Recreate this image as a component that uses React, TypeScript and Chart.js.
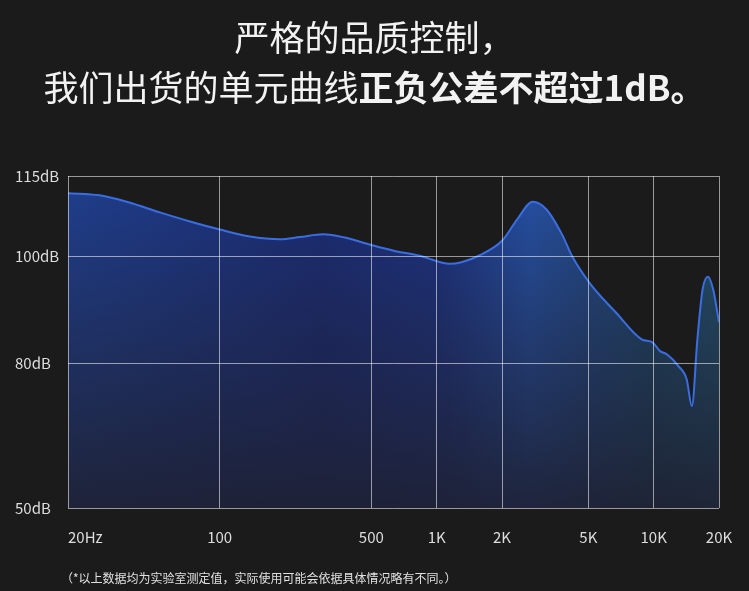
import React, { useEffect, useRef } from "react";
import { Chart, registerables } from "chart.js";

Chart.register(...registerables);

// ---- data ----
const freqs = [
  20, 28, 38, 53, 73, 100, 138, 190, 234, 300, 378, 500, 640, 835, 1040, 1150,
  1300, 1580, 2000, 2350, 2770, 3200, 3780, 4200, 5050, 6700, 8800, 9900, 10700,
  11500, 13000, 14200, 15000, 15900, 16800, 17800, 18800, 20000,
];
const levels = [
  111.8, 111.4, 110.1, 108.2, 106.5, 105.0, 103.7, 103.2, 103.6, 104.1, 103.5,
  102.1, 101.0, 100.1, 98.9, 98.6, 98.9, 100.2, 102.9, 106.9, 110.2, 108.8,
  104.1, 100.1, 95.1, 89.5, 84.5, 83.9, 82.3, 81.7, 79.5, 77.0, 72.0, 84.5, 93.8,
  96.2, 93.8, 87.7,
];
const xTickValues = [20, 100, 500, 1000, 2000, 5000, 10000, 20000];
const xTickLabels = ["20Hz", "100", "500", "1K", "2K", "5K", "10K", "20K"];
const yTickValues = [53, 80, 100, 115];
const yTickLabels = ["50dB", "80dB", "100dB", "115dB"];
const titleLine1 = "严格的品质控制，";
const titleLine2a = "我们出货的单元曲线";
const titleLine2b = "正负公差不超过1dB。";
const footnote = "（*以上数据均为实验室测定值，实际使用可能会依据具体情况略有不同。）";

const FONT = '"Noto Sans CJK SC", "Noto Sans", sans-serif';
const GRID = "rgba(255,255,255,0.55)";
const LABEL = "#dedede";

function colorGradient(chart: any) {
  const a = chart.chartArea;
  if (!a) return "#1f3e8c";
  const g = chart.ctx.createLinearGradient(a.left, 0, a.right, 0);
  g.addColorStop(0, "#1f3f8e");
  g.addColorStop(0.39, "#1b2c76");
  g.addColorStop(0.57, "#1d3384");
  g.addColorStop(0.71, "#2551a6");
  g.addColorStop(0.8, "#234a88");
  g.addColorStop(0.9, "#1f4a6a");
  g.addColorStop(1, "#23536f");
  return g;
}

function shadeGradient(chart: any) {
  const a = chart.chartArea;
  if (!a) return "rgba(0,0,0,0)";
  const g = chart.ctx.createLinearGradient(0, a.top, 0, a.bottom);
  g.addColorStop(0, "rgba(30,32,48,0)");
  g.addColorStop(1, "rgba(30,32,48,0.9)");
  return g;
}

const xLabelPlugin = {
  id: "xLabels",
  afterDraw(chart: any) {
    const ctx = chart.ctx;
    const xs = chart.scales.x;
    ctx.save();
    ctx.font = `15px ${FONT}`;
    ctx.fillStyle = LABEL;
    ctx.textBaseline = "alphabetic";
    xTickValues.forEach((v, i) => {
      const px = xs.getPixelForValue(v);
      ctx.textAlign = i === 0 ? "left" : "center";
      ctx.fillText(xTickLabels[i], px, 543);
    });
    ctx.restore();
  },
};

export default function App() {
  const ref = useRef<HTMLCanvasElement>(null);

  useEffect(() => {
    if (!ref.current) return;
    const points = freqs.map((f, i) => ({ x: f, y: levels[i] }));
    const chart = new Chart(ref.current, {
      type: "line",
      data: {
        datasets: [
          {
            data: points,
            fill: "start",
            borderWidth: 0,
            pointRadius: 0,
            backgroundColor: (c: any) => shadeGradient(c.chart),
            cubicInterpolationMode: "monotone",
          },
          {
            data: points,
            fill: "start",
            borderColor: "#3a6ee0",
            borderWidth: 2,
            pointRadius: 0,
            backgroundColor: (c: any) => colorGradient(c.chart),
            cubicInterpolationMode: "monotone",
          },
        ],
      },
      options: {
        animation: false,
        responsive: false,
        events: [],
        layout: { padding: { left: 15, right: 30, top: 176, bottom: 83 } },
        plugins: {
          legend: { display: false },
          tooltip: { enabled: false },
          filler: { drawTime: "beforeDatasetsDraw" },
        },
        scales: {
          x: {
            type: "logarithmic",
            min: 20,
            max: 20000,
            afterBuildTicks: (s: any) => {
              s.ticks = xTickValues.map((v) => ({ value: v }));
            },
            afterFit: (s: any) => {
              s.height = 0;
            },
            ticks: { display: false },
            grid: { color: GRID, drawTicks: false, lineWidth: 1, z: 1 },
            border: { display: false },
          },
          y: {
            type: "linear",
            min: 53,
            max: 115,
            afterBuildTicks: (s: any) => {
              s.ticks = yTickValues.map((v) => ({ value: v }));
            },
            afterFit: (s: any) => {
              s.width = 53;
            },
            ticks: {
              crossAlign: "far",
              padding: 0,
              color: LABEL,
              font: { family: FONT, size: 15 },
              callback: (v: any) => {
                const i = yTickValues.indexOf(Number(v));
                return i >= 0 ? yTickLabels[i] : "";
              },
            },
            grid: { color: GRID, drawTicks: false, lineWidth: 1, z: 1 },
            border: { display: false },
          },
        },
      } as any,
      plugins: [xLabelPlugin],
    });
    return () => chart.destroy();
  }, []);

  return (
    <div
      style={{
        position: "fixed",
        left: 0,
        top: 0,
        width: 749,
        height: 591,
        background: "#1b1b1b",
        overflow: "hidden",
        fontFamily: FONT,
      }}
    >
      <canvas
        ref={ref}
        width={749}
        height={591}
        style={{ position: "absolute", left: 0, top: 0, width: 749, height: 591 }}
      />
      <div
        style={{
          position: "absolute",
          left: 0,
          top: 11,
          width: 749,
          textAlign: "center",
          color: "#f2f2f2",
          fontSize: 35,
          lineHeight: "50px",
          fontWeight: 400,
          whiteSpace: "nowrap",
        }}
      >
        <div>{titleLine1}</div>
        <div>
          {titleLine2a}
          <span style={{ fontWeight: 700 }}>{titleLine2b}</span>
        </div>
      </div>
      <div
        style={{
          position: "absolute",
          left: 61,
          top: 570,
          color: "#e0e0e0",
          fontSize: 12,
          lineHeight: "16px",
          whiteSpace: "nowrap",
        }}
      >
        {footnote}
      </div>
    </div>
  );
}
